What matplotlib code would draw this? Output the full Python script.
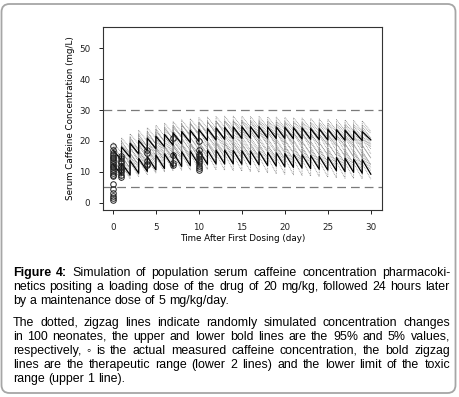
import numpy as np
import matplotlib.pyplot as plt
from matplotlib.patches import FancyBboxPatch
from matplotlib.transforms import IdentityTransform
from matplotlib.font_manager import FontProperties

# ── Données ───────────────────────────────────────────────────────────────────
# Chaque courbe en zigzag : pic juste après la dose (jours 0..29)
# et creux juste avant la dose suivante (jours 1..30)

p95_peaks = [17.0, 18.0, 19.2, 20.1, 20.9, 21.5, 22.1, 22.6, 23.0, 23.4,
             23.7, 24.0, 24.2, 24.4, 24.5, 24.6, 24.6, 24.6, 24.5, 24.5,
             24.4, 24.3, 24.2, 24.0, 23.9, 23.7, 23.6, 23.4, 23.2, 23.0]
p95_troughs = [13.8, 14.7, 15.8, 16.8, 17.5, 18.1, 18.6, 19.1, 19.5, 19.8,
               20.1, 20.3, 20.5, 20.7, 20.8, 20.9, 20.9, 20.9, 20.8, 20.8,
               20.7, 20.6, 20.5, 20.4, 20.3, 20.3, 20.2, 20.2, 20.1, 20.3]

p5_peaks = [12.5, 12.8, 13.6, 14.3, 14.9, 15.4, 15.8, 16.2, 16.5, 16.7,
            16.9, 17.0, 17.0, 17.0, 16.9, 16.8, 16.7, 16.5, 16.3, 16.1,
            15.9, 15.7, 15.5, 15.3, 15.0, 14.8, 14.6, 14.4, 14.1, 13.9]
p5_troughs = [9.0, 9.0, 9.5, 10.1, 10.6, 11.0, 11.4, 11.7, 12.0, 12.2,
              12.4, 12.5, 12.5, 12.5, 12.4, 12.3, 12.2, 12.0, 11.8, 11.6,
              11.4, 11.2, 11.0, 10.8, 10.5, 10.3, 10.0, 9.8, 9.5, 9.2]

# quelques trajectoires simulées (lignes pointillées grises)
sim_peaks = [
    [19.5, 21.0, 22.3, 23.4, 24.3, 25.1, 25.8, 26.3, 26.8, 27.2, 27.5, 27.7, 27.9, 28.0, 28.0,
     28.0, 27.9, 27.9, 27.8, 27.7, 27.6, 27.5, 27.4, 27.3, 27.1, 27.0, 26.9, 26.8, 26.6, 26.5],
    [18.0, 19.4, 20.7, 21.8, 22.7, 23.5, 24.2, 24.8, 25.3, 25.7, 26.0, 26.2, 26.4, 26.5, 26.5,
     26.5, 26.4, 26.3, 26.2, 26.1, 26.0, 25.9, 25.7, 25.6, 25.4, 25.3, 25.1, 25.0, 24.8, 24.6],
    [17.0, 18.4, 19.7, 20.9, 21.9, 22.8, 23.6, 24.3, 24.9, 25.4, 25.8, 26.1, 26.3, 26.5, 26.6,
     26.7, 26.7, 26.7, 26.6, 26.5, 26.4, 26.3, 26.2, 26.0, 25.9, 25.8, 25.6, 25.5, 25.3, 25.2],
    [18.8, 20.1, 21.3, 22.3, 23.2, 24.0, 24.7, 25.2, 25.6, 25.9, 26.1, 26.3, 26.4, 26.4, 26.3,
     26.2, 26.1, 25.9, 25.7, 25.5, 25.3, 25.1, 24.9, 24.7, 24.5, 24.3, 24.1, 23.9, 23.7, 23.5],
    [17.5, 18.7, 19.8, 20.8, 21.6, 22.3, 22.9, 23.4, 23.8, 24.1, 24.4, 24.6, 24.7, 24.8, 24.8,
     24.8, 24.7, 24.6, 24.5, 24.4, 24.2, 24.1, 23.9, 23.8, 23.6, 23.4, 23.3, 23.1, 22.9, 22.8],
    [15.0, 16.3, 17.5, 18.6, 19.6, 20.5, 21.3, 22.0, 22.6, 23.1, 23.5, 23.9, 24.2, 24.4, 24.6,
     24.7, 24.8, 24.8, 24.8, 24.8, 24.7, 24.6, 24.5, 24.4, 24.3, 24.2, 24.1, 24.0, 23.9, 23.8],
    [16.5, 17.8, 19.0, 20.0, 20.9, 21.6, 22.2, 22.7, 23.1, 23.4, 23.6, 23.8, 23.9, 23.9, 23.9,
     23.8, 23.7, 23.6, 23.4, 23.3, 23.1, 22.9, 22.7, 22.5, 22.3, 22.1, 21.9, 21.7, 21.5, 21.3],
    [16.0, 17.2, 18.3, 19.3, 20.2, 21.0, 21.7, 22.3, 22.8, 23.2, 23.5, 23.7, 23.8, 23.8, 23.8,
     23.7, 23.6, 23.4, 23.2, 23.0, 22.8, 22.6, 22.4, 22.1, 21.9, 21.7, 21.4, 21.2, 21.0, 20.8],
    [13.5, 14.8, 16.0, 17.0, 17.9, 18.7, 19.4, 20.0, 20.5, 21.0, 21.4, 21.7, 22.0, 22.2, 22.4,
     22.5, 22.6, 22.6, 22.6, 22.6, 22.5, 22.5, 22.4, 22.3, 22.2, 22.1, 22.0, 21.9, 21.8, 21.7],
    [15.5, 16.6, 17.6, 18.5, 19.3, 19.9, 20.4, 20.8, 21.1, 21.3, 21.5, 21.6, 21.6, 21.6, 21.5,
     21.4, 21.3, 21.1, 20.9, 20.7, 20.5, 20.3, 20.1, 19.9, 19.7, 19.5, 19.3, 19.1, 18.9, 18.7],
    [13.0, 14.1, 15.1, 16.0, 16.8, 17.5, 18.1, 18.6, 19.0, 19.4, 19.7, 19.9, 20.1, 20.2, 20.3,
     20.3, 20.3, 20.2, 20.1, 20.0, 19.9, 19.8, 19.6, 19.5, 19.3, 19.2, 19.0, 18.9, 18.7, 18.5],
    [12.8, 13.8, 14.8, 15.7, 16.5, 17.2, 17.8, 18.3, 18.7, 19.0, 19.2, 19.4, 19.5, 19.5, 19.5,
     19.4, 19.3, 19.2, 19.0, 18.9, 18.7, 18.5, 18.3, 18.1, 17.9, 17.7, 17.5, 17.3, 17.1, 16.9],
    [14.0, 15.0, 15.9, 16.7, 17.4, 18.0, 18.5, 18.9, 19.2, 19.4, 19.5, 19.5, 19.4, 19.3, 19.1,
     18.9, 18.7, 18.5, 18.3, 18.1, 17.9, 17.7, 17.5, 17.3, 17.1, 16.9, 16.7, 16.5, 16.3, 16.1],
    [14.5, 15.4, 16.2, 16.9, 17.5, 18.0, 18.4, 18.7, 18.9, 19.0, 19.1, 19.1, 19.0, 18.9, 18.8,
     18.6, 18.4, 18.2, 18.0, 17.8, 17.6, 17.4, 17.2, 17.0, 16.8, 16.6, 16.4, 16.2, 16.0, 15.8],
    [12.0, 13.0, 13.9, 14.7, 15.4, 16.0, 16.5, 16.9, 17.2, 17.4, 17.6, 17.7, 17.7, 17.7, 17.6,
     17.5, 17.4, 17.2, 17.0, 16.8, 16.6, 16.4, 16.2, 16.0, 15.8, 15.6, 15.4, 15.2, 15.0, 14.8],
    [11.5, 12.3, 13.1, 13.8, 14.4, 14.9, 15.3, 15.6, 15.8, 15.9, 16.0, 16.0, 15.9, 15.8, 15.6,
     15.4, 15.2, 15.0, 14.8, 14.6, 14.4, 14.2, 14.0, 13.8, 13.6, 13.4, 13.2, 13.0, 12.8, 12.6],
]
sim_troughs = [
    [16.2, 17.6, 18.9, 19.9, 20.8, 21.6, 22.3, 22.8, 23.3, 23.7, 24.0, 24.2, 24.4, 24.5, 24.5,
     24.5, 24.4, 24.4, 24.3, 24.2, 24.1, 24.0, 23.9, 23.8, 23.6, 23.5, 23.4, 23.3, 23.1, 23.0],
    [14.4, 15.8, 17.1, 18.2, 19.1, 19.9, 20.6, 21.2, 21.7, 22.1, 22.4, 22.6, 22.8, 22.9, 22.9,
     22.9, 22.8, 22.7, 22.6, 22.5, 22.4, 22.3, 22.1, 22.0, 21.8, 21.7, 21.5, 21.4, 21.2, 21.0],
    [14.2, 15.6, 16.9, 18.1, 19.1, 20.0, 20.8, 21.5, 22.1, 22.6, 23.0, 23.3, 23.5, 23.7, 23.8,
     23.9, 23.9, 23.9, 23.8, 23.7, 23.6, 23.5, 23.4, 23.2, 23.1, 23.0, 22.8, 22.7, 22.5, 22.4],
    [14.5, 15.8, 17.0, 18.0, 18.9, 19.7, 20.4, 20.9, 21.3, 21.6, 21.8, 22.0, 22.1, 22.1, 22.0,
     21.9, 21.8, 21.6, 21.4, 21.2, 21.0, 20.8, 20.6, 20.4, 20.2, 20.0, 19.8, 19.6, 19.4, 19.2],
    [13.3, 14.5, 15.6, 16.6, 17.4, 18.1, 18.7, 19.2, 19.6, 19.9, 20.2, 20.4, 20.5, 20.6, 20.6,
     20.6, 20.5, 20.4, 20.3, 20.2, 20.0, 19.9, 19.7, 19.6, 19.4, 19.2, 19.1, 18.9, 18.7, 18.6],
    [11.8, 13.1, 14.3, 15.4, 16.4, 17.3, 18.1, 18.8, 19.4, 19.9, 20.3, 20.7, 21.0, 21.2, 21.4,
     21.5, 21.6, 21.6, 21.6, 21.6, 21.5, 21.4, 21.3, 21.2, 21.1, 21.0, 20.9, 20.8, 20.7, 20.6],
    [12.6, 13.9, 15.1, 16.1, 17.0, 17.7, 18.3, 18.8, 19.2, 19.5, 19.7, 19.9, 20.0, 20.0, 20.0,
     19.9, 19.8, 19.7, 19.5, 19.4, 19.2, 19.0, 18.8, 18.6, 18.4, 18.2, 18.0, 17.8, 17.6, 17.4],
    [11.0, 12.2, 13.3, 14.3, 15.2, 16.0, 16.7, 17.3, 17.8, 18.2, 18.5, 18.7, 18.8, 18.8, 18.8,
     18.7, 18.6, 18.4, 18.2, 18.0, 17.8, 17.6, 17.4, 17.1, 16.9, 16.7, 16.4, 16.2, 16.0, 15.8],
    [9.9, 11.2, 12.4, 13.4, 14.3, 15.1, 15.8, 16.4, 16.9, 17.4, 17.8, 18.1, 18.4, 18.6, 18.8,
     18.9, 19.0, 19.0, 19.0, 19.0, 18.9, 18.9, 18.8, 18.7, 18.6, 18.5, 18.4, 18.3, 18.2, 18.1],
    [11.3, 12.4, 13.4, 14.2, 15.0, 15.6, 16.1, 16.5, 16.8, 17.0, 17.2, 17.3, 17.3, 17.3, 17.2,
     17.1, 17.0, 16.8, 16.6, 16.4, 16.2, 16.0, 15.8, 15.6, 15.4, 15.2, 15.0, 14.8, 14.6, 14.4],
    [9.0, 10.1, 11.1, 12.0, 12.8, 13.5, 14.1, 14.6, 15.0, 15.4, 15.7, 15.9, 16.1, 16.2, 16.3,
     16.3, 16.3, 16.2, 16.1, 16.0, 15.9, 15.8, 15.6, 15.5, 15.3, 15.2, 15.0, 14.9, 14.7, 14.5],
    [7.9, 8.9, 9.9, 10.8, 11.6, 12.3, 12.9, 13.4, 13.8, 14.1, 14.3, 14.5, 14.6, 14.6, 14.6,
     14.5, 14.4, 14.3, 14.1, 14.0, 13.8, 13.6, 13.4, 13.2, 13.0, 12.8, 12.6, 12.4, 12.2, 12.0],
    [10.3, 11.3, 12.2, 13.0, 13.7, 14.3, 14.8, 15.2, 15.5, 15.7, 15.8, 15.8, 15.7, 15.6, 15.4,
     15.2, 15.0, 14.8, 14.6, 14.4, 14.2, 14.0, 13.8, 13.6, 13.4, 13.2, 13.0, 12.8, 12.6, 12.4],
    [9.9, 10.8, 11.6, 12.3, 12.9, 13.4, 13.8, 14.1, 14.3, 14.4, 14.5, 14.5, 14.4, 14.3, 14.2,
     14.0, 13.8, 13.6, 13.4, 13.2, 13.0, 12.8, 12.6, 12.4, 12.2, 12.0, 11.8, 11.6, 11.4, 11.2],
    [7.8, 8.5, 9.4, 10.2, 10.9, 11.5, 12.0, 12.4, 12.7, 12.9, 13.1, 13.2, 13.2, 13.2, 13.1,
     13.0, 12.9, 12.7, 12.5, 12.3, 12.1, 11.9, 11.7, 11.5, 11.3, 11.1, 10.9, 10.7, 10.5, 10.3],
    [7.0, 7.8, 8.5, 9.1, 9.6, 10.0, 10.3, 10.5, 10.6, 10.7, 10.7, 10.6, 10.5, 10.4, 10.2,
     10.0, 9.8, 9.6, 9.4, 9.2, 9.0, 8.8, 8.6, 8.4, 8.2, 8.0, 7.9, 7.8, 7.7, 7.6],
]

# concentrations mesurées (cercles)
obs_day  = [0]*22 + [1]*11 + [4]*5 + [7]*4 + [10]*10
obs_conc = [18.5, 17.0, 16.2, 15.5, 14.9, 14.3, 13.7, 13.1, 12.5, 12.0, 11.4,
            10.8, 10.2, 9.6, 9.0, 8.5, 6.0, 4.5, 3.2, 2.2, 1.4, 0.9,
            15.0, 14.3, 13.5, 12.8, 12.0, 11.5, 11.0, 10.4, 9.8, 9.0, 8.2,
            17.0, 16.2, 13.5, 12.6, 12.2,
            21.0, 15.5, 12.8, 12.3,
            20.0, 17.0, 15.8, 15.0, 14.2, 13.5, 12.8, 12.0, 11.3, 10.6]

toxic_limit = 30
therap_low  = 5

x_ticks = [0, 5, 10, 15, 20, 25, 30]
y_ticks = [0, 10, 20, 30, 40, 50]

caption_1 = ["Figure 4: Simulation of population serum caffeine concentration pharmacoki-",
             "netics positing a loading dose of the drug of 20 mg/kg, followed 24 hours later",
             "by a maintenance dose of 5 mg/kg/day."]
caption_2 = ["The dotted, zigzag lines indicate randomly simulated concentration changes",
             "in 100 neonates, the upper and lower bold lines are the 95% and 5% values,",
             "respectively, \u25e6 is the actual measured caffeine concentration, the bold zigzag",
             "lines are the therapeutic range (lower 2 lines) and the lower limit of the toxic",
             "range (upper 1 line)."]


def zigzag(peaks, troughs):
    """Construit la ligne en dents de scie : montée verticale à chaque dose."""
    xs, ys = [0], [peaks[0]]
    for d in range(1, len(peaks)):
        xs += [d, d]
        ys += [troughs[d-1], peaks[d]]
    xs.append(len(peaks))
    ys.append(troughs[-1])
    return xs, ys


W, H = 460, 397
fig = plt.figure(figsize=(W/100, H/100), dpi=100)
ax  = fig.add_axes([103/W, 1 - 210/H, 279/W, 183/H])

for pk, tr in zip(sim_peaks, sim_troughs):
    xs, ys = zigzag(pk, tr)
    ax.plot(xs, ys, color="#8a8a8a", linestyle=(0, (1, 1)), linewidth=0.6, zorder=1)

for pk, tr in [(p95_peaks, p95_troughs), (p5_peaks, p5_troughs)]:
    xs, ys = zigzag(pk, tr)
    ax.plot(xs, ys, color="black", linewidth=0.9, zorder=3)

ax.axhline(toxic_limit, color="#7a7a7a", linestyle=(0, (7, 4)), linewidth=0.9, zorder=2)
ax.axhline(therap_low,  color="#7a7a7a", linestyle=(0, (7, 4)), linewidth=0.9, zorder=2)

ax.plot(obs_day, obs_conc, "o", markerfacecolor="none", markeredgecolor="#222222",
        markersize=4, markeredgewidth=0.7, zorder=4)

ax.set_xlim(-1.15, 31.3)
ax.set_ylim(-2.4, 56.9)
ax.set_xticks(x_ticks)
ax.set_yticks(y_ticks)
ax.tick_params(labelsize=6.3, length=3, width=0.7, pad=6, colors="#222222")
for s in ax.spines.values():
    s.set_linewidth(0.8)
    s.set_color("#333333")
ax.set_xlabel("Time After First Dosing (day)", fontsize=6.3, labelpad=2)
ax.set_ylabel("Serum Caffeine Concentration (mg/L)", fontsize=6.3, labelpad=3)

# cadre arrondi autour de la figure
cadre = FancyBboxPatch((1.5, 4), 454, 389, boxstyle="round,pad=0,rounding_size=8",
                       transform=IdentityTransform(), facecolor="none",
                       edgecolor="#a6a6a6", linewidth=1.3)
fig.patches.append(cadre)

# ── Légende justifiée (mot par mot) ──────────────────────────────────────────
renderer = fig.canvas.get_renderer()
fam  = ["Liberation Sans", "DejaVu Sans"]
fs   = 8.9
x0, x1 = 12.7, 450.0


def largeur(s):
    t = fig.text(0, 0, s, fontsize=fs, family=fam)
    w = t.get_window_extent(renderer).width
    t.remove()
    return w


def y_mot(mot, ligne_base, poids):
    # Agg arrondit la position du bas de l'image du mot : on compense
    # pour que tous les mots d'une ligne tombent sur la même ligne de base
    fp = FontProperties(family=fam, size=fs, weight=poids)
    _, h, d = renderer.get_text_width_height_descent(mot, fp, ismath=False)
    return ligne_base + np.floor(h) - np.floor(h - d) - d


esp_mot = largeur("a a") - largeur("aa")


def ligne(texte, y_px, justifier, gras=0):
    mots = texte.split(" ")
    objs = []
    base = round(y_px)
    for i, m_ in enumerate(mots):
        poids = "bold" if i < gras else "normal"
        yb = y_mot(m_, base, poids)
        t = fig.text(0, 1 - yb/H, m_, fontsize=fs, family=fam, va="baseline",
                     fontweight=poids)
        objs.append(t)
    larg = [t.get_window_extent(renderer).width for t in objs]
    sp = esp_mot
    if justifier:
        sp = (x1 - x0 - sum(larg)) / (len(mots) - 1)
    x = x0
    for t, w in zip(objs, larg):
        t.set_x(x / W)
        x += w + sp


for i, (txt, y) in enumerate(zip(caption_1, [276, 290, 303.5])):
    ligne(txt, y, i < len(caption_1) - 1, gras=2 if i == 0 else 0)
for i, (txt, y) in enumerate(zip(caption_2, [326.5, 340.5, 354, 368, 381.5])):
    ligne(txt, y, i < len(caption_2) - 1)

fig.savefig("out.png", dpi=100)
